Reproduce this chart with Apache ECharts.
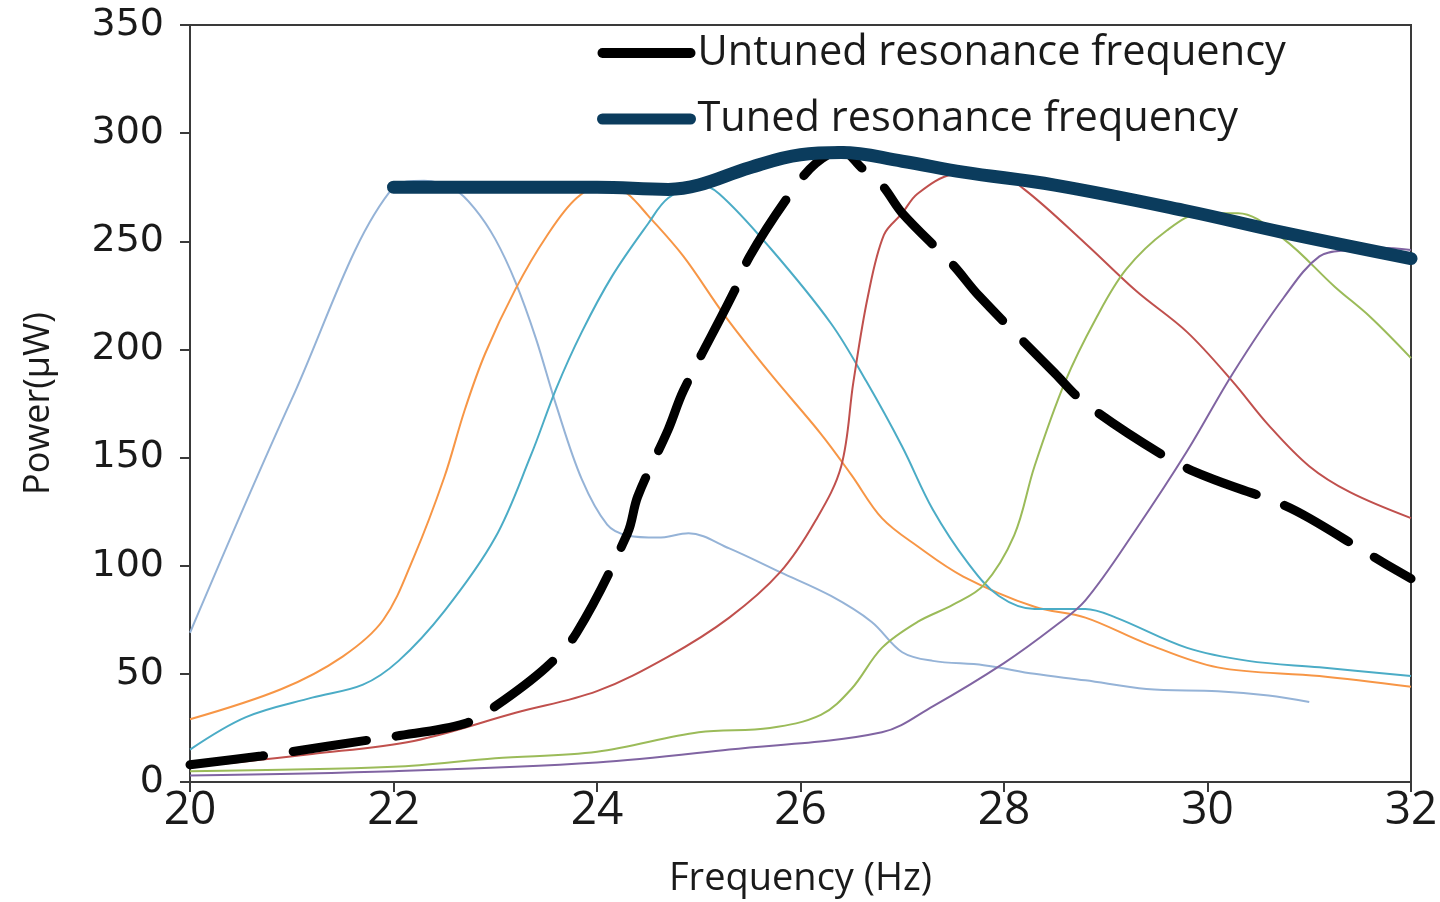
<!DOCTYPE html>
<html>
<head>
<meta charset="utf-8">
<title>Power vs Frequency</title>
<script src="https://cdn.jsdelivr.net/npm/echarts@6/dist/echarts.min.js"></script>
<style>
  html, body { margin: 0; padding: 0; background: #fff; }
  #chart { width: 1440px; height: 902px; }
</style>
</head>
<body>
<div id="chart"></div>
<script>
// frequency (Hz) / power (uW), one pair of arrays per curve
const lightBlueFreq  = [20, 21, 22, 22.3, 22.6, 22.8, 23, 23.2, 23.4, 23.6, 23.85, 24.1, 24.3, 24.6, 24.9, 25.3, 25.8, 26.3, 26.7, 27, 27.3, 27.8, 28.3, 28.8, 29.4, 30.1, 30.6, 31];
const lightBluePower = [69, 177, 275, 278, 274, 265, 251, 231, 205, 174, 140, 119, 114, 113, 115, 108, 97, 86, 74, 60, 56, 54, 50, 47, 43, 42, 40, 37];

const orangeFreq  = [20, 20.9, 21.5, 21.9, 22.2, 22.5, 22.7, 22.9, 23.2, 23.5, 23.8, 24.1, 24.3, 24.5, 24.85, 25.25, 25.7, 26.2, 26.5, 26.8, 27.15, 27.6, 28.3, 28.8, 29.4, 30.1, 31.1, 32];
const orangePower = [29, 43, 58, 75, 104, 141, 172, 198, 228, 252, 270, 277, 272, 262, 243, 216, 189, 161, 142, 122, 109, 95, 81, 76, 64, 53, 49, 44];

const cyanFreq  = [20, 20.55, 21.2, 21.7, 22.05, 22.5, 23, 23.35, 23.6, 23.85, 24.15, 24.5, 24.7, 25, 25.2, 25.7, 26.3, 26.65, 27, 27.3, 27.65, 27.95, 28.3, 28.8, 29.1, 29.8, 30.4, 31.1, 32];
const cyanPower = [15, 30, 39, 45, 56, 79, 113, 151, 182, 208, 234, 258, 270, 276, 272, 247, 212, 185, 155, 126, 101, 86, 80, 80, 76, 62, 56, 53, 49];

const redFreq  = [20, 21.2, 22.2, 23.2, 24, 24.7, 25.3, 25.8, 26.15, 26.4, 26.52, 26.66, 26.82, 27, 27.15, 27.5, 27.9, 28.2, 28.8, 29.3, 29.8, 30.25, 30.6, 31, 31.4, 32];
const redPower = [7, 13, 19, 32, 42, 58, 76, 97, 121, 146, 185, 224, 253, 263, 272, 281, 282, 274, 249, 227, 208, 185, 165, 146, 134, 122];

const greenFreq  = [20, 22, 23, 24, 25, 25.7, 26.2, 26.5, 26.8, 27.15, 27.5, 27.8, 28.1, 28.3, 28.6, 28.9, 29.2, 29.6, 29.95, 30.3, 30.75, 31.25, 31.6, 32];
const greenPower = [5, 7, 11, 14, 23, 25, 31, 43, 62, 74, 82, 91, 114, 146, 185, 214, 237, 255, 263, 263, 251, 229, 215, 196];

const purpleFreq  = [20, 22, 24, 25.3, 26.8, 27.3, 28, 28.5, 28.8, 29.3, 29.8, 30.25, 30.75, 31.1, 31.4, 31.7, 32];
const purplePower = [3, 5, 9, 15, 23, 35, 55, 72, 84, 117, 153, 189, 224, 243, 246, 247, 246];

const untunedFreq  = [20, 20.7, 21, 21.7, 22, 22.7, 23, 23.5, 23.8, 24.3, 24.4, 24.7, 24.85, 25.35, 25.5, 25.9, 26.15, 26.4, 26.6, 26.8, 27, 27.5, 27.75, 28.5, 28.8, 29.6, 30, 30.7, 31, 31.6, 32];
const untunedPower = [8, 12, 14, 19, 21, 27, 35, 53, 69, 115, 132, 163, 181, 227, 243, 272, 286, 292, 284, 276, 263, 239, 225, 189, 175, 150, 141, 129, 122, 105, 94];

const tunedFreq  = [22, 23, 24, 24.7, 25, 25.5, 26, 26.4, 27, 27.6, 28.5, 29.8, 30.75, 32];
const tunedPower = [275, 275, 275, 274, 276, 284, 290, 291, 287, 282, 276, 264, 254, 242];

const xTicks = [20, 22, 24, 26, 28, 30, 32];
const yTicks = [0, 50, 100, 150, 200, 250, 300, 350];

function pairs(xs, ys) {
  return xs.map((x, i) => [x, ys[i]]);
}

function thin(name, xs, ys, color) {
  return {
    name: name,
    type: 'line',
    data: pairs(xs, ys),
    smooth: 0.35,
    symbol: 'none',
    lineStyle: { color: color, width: 2 },
    itemStyle: { color: color },
    z: 2
  };
}

let chart = echarts.init(document.getElementById('chart'));

let option = {
  animation: false,
  backgroundColor: '#fff',
  grid: {
    left: 190, right: 29, top: 25, bottom: 120,
    outerBoundsMode: 'none',
    containLabel: false,
    show: true, borderColor: '#3a3a3a', borderWidth: 2
  },
  legend: {
    data: [
      { name: 'Untuned resonance frequency', itemStyle: { opacity: 0 }, lineStyle: { type: 'solid', width: 10, color: '#000' } },
      { name: 'Tuned resonance frequency', itemStyle: { opacity: 0 }, lineStyle: { type: 'solid', width: 11, color: '#0b3c5d' } }
    ],
    orient: 'vertical',
    left: 592,
    top: 27,
    itemWidth: 88,
    itemHeight: 12,
    itemGap: 24,
    textStyle: { fontFamily: 'Open Sans', fontSize: 41.5, color: '#1a1a1a', padding: [0, 0, 0, 2] }
  },
  xAxis: {
    type: 'value',
    min: 20, max: 32, interval: 2,
    name: 'Frequency (Hz)',
    nameLocation: 'middle',
    nameGap: 78,
    nameTextStyle: { fontFamily: 'Open Sans', fontSize: 38, color: '#1a1a1a' },
    axisLine: { lineStyle: { color: '#3a3a3a', width: 2 } },
    axisTick: { show: true, inside: false, length: 10, lineStyle: { color: '#3a3a3a', width: 2 } },
    axisLabel: {
      fontFamily: 'Open Sans', fontSize: 46, color: '#1a1a1a', margin: 6,
      formatter: v => xTicks.includes(v) ? String(v) : ''
    },
    splitLine: { show: false }
  },
  yAxis: {
    type: 'value',
    min: 0, max: 350, interval: 50,
    name: 'Power(μW)',
    nameLocation: 'middle',
    nameRotate: 90,
    nameGap: 133,
    nameTextStyle: { fontFamily: 'Open Sans', fontSize: 36, color: '#1a1a1a' },
    axisLine: { show: true, lineStyle: { color: '#3a3a3a', width: 2 } },
    axisTick: { show: true, inside: false, length: 10, lineStyle: { color: '#3a3a3a', width: 2 } },
    axisLabel: {
      fontFamily: 'DejaVu Sans', fontSize: 38, color: '#1a1a1a', margin: 26,
      formatter: v => yTicks.includes(v) ? String(v) : ''
    },
    splitLine: { show: false }
  },
  series: [
    thin('c1', lightBlueFreq, lightBluePower, '#95b3d7'),
    thin('c2', orangeFreq, orangePower, '#f79646'),
    thin('c3', cyanFreq, cyanPower, '#4bacc6'),
    thin('c4', redFreq, redPower, '#c0504d'),
    thin('c5', greenFreq, greenPower, '#9bbb59'),
    thin('c6', purpleFreq, purplePower, '#8064a2'),
    {
      name: 'Untuned resonance frequency',
      type: 'line',
      data: pairs(untunedFreq, untunedPower),
      smooth: 0.35,
      symbol: 'none',
      lineStyle: { color: '#000', width: 9, type: [74, 30], cap: 'round' },
      itemStyle: { color: '#000' },
      z: 3
    },
    {
      name: 'Tuned resonance frequency',
      type: 'line',
      data: pairs(tunedFreq, tunedPower),
      smooth: 0.4,
      symbol: 'none',
      lineStyle: { color: '#0b3c5d', width: 13, cap: 'round' },
      itemStyle: { color: '#0b3c5d' },
      z: 4
    }
  ]
};

chart.setOption(option);
</script>
</body>
</html>
